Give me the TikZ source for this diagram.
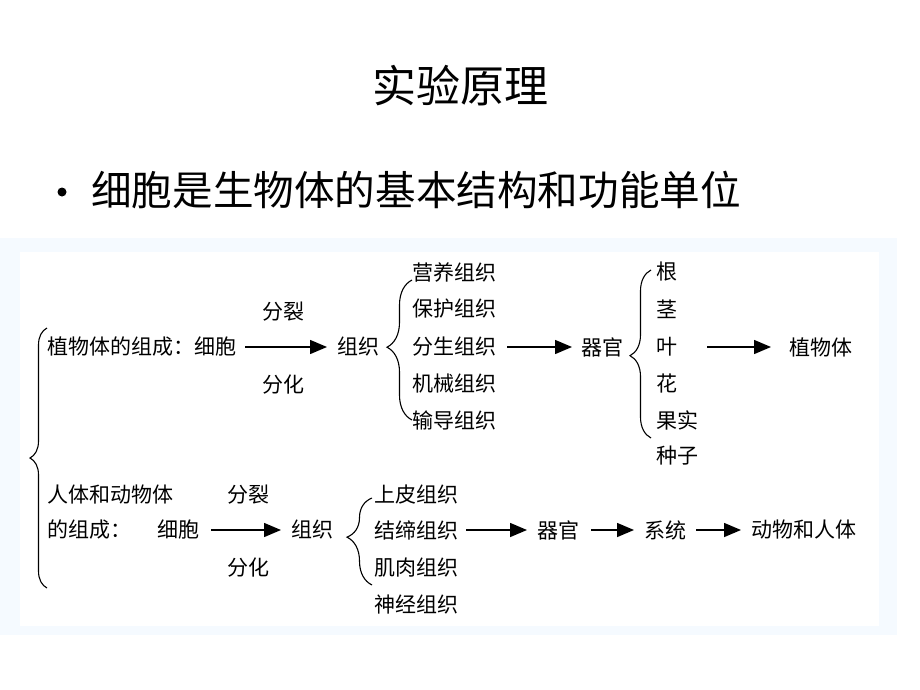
\documentclass[tikz,border=0pt]{standalone}
\usepackage{fontspec}
\newfontfamily\cjk{Noto Sans CJK SC}
\usetikzlibrary{arrows.meta,decorations.pathreplacing}
\definecolor{bgblue}{HTML}{F5FAFF}
\tikzset{
  lbl/.style={font=\cjk\fontsize{21}{21}\selectfont, inner sep=0pt, outer sep=0pt, anchor=west},
  clbl/.style={font=\cjk\fontsize{21}{21}\selectfont, inner sep=0pt, outer sep=0pt},
  arr/.style={line width=1.5pt, -{Triangle[length=17pt,width=14pt]}, shorten <=10pt, shorten >=10pt},
  brc/.style={line width=1.1pt, decorate, decoration={brace, amplitude=#1}},
}
\begin{document}
\begin{tikzpicture}[x=1pt,y=-1pt]
\useasboundingbox (0,0) rectangle (920,690);
\fill[white] (0,0) rectangle (920,690);
% background frames
\fill[bgblue] (0,238) rectangle (897,635);
\fill[white] (20,252) rectangle (879,626);
% title and bullet
\node[font=\cjk\fontsize{44}{44}\selectfont, inner sep=0pt] (title) at (460,86) {实验原理};
\node[circle, fill=black, inner sep=0pt, minimum size=9pt] (dot) at (62,192) {};
\node[font=\cjk\fontsize{40.6}{40.6}\selectfont, inner sep=0pt, anchor=west] (lead) at (91,190) {细胞是生物体的基本结构和功能单位};
% row 1: plants
\node[lbl] (pcell) at (47,347) {植物体的组成：细胞};
\node[clbl] (psplit) at (283,312) {分裂};
\node[clbl] (pdiff) at (283,385) {分化};
\node[lbl] (ptis) at (337,347) {组织};
\node[lbl] (t1) at (412,272) {营养组织};
\node[lbl] (t2) at (412,309) {保护组织};
\node[lbl] (t3) at (412,347) {分生组织};
\node[lbl] (t4) at (412,384) {机械组织};
\node[lbl] (t5) at (412,420) {输导组织};
\node[lbl] (porg) at (581,347) {器官};
\node[lbl] (o1) at (656,272) {根};
\node[lbl] (o2) at (656,309) {茎};
\node[lbl] (o3) at (656,347) {叶};
\node[lbl] (o4) at (656,384) {花};
\node[lbl] (o5) at (656,420) {果实};
\node[lbl] (o6) at (656,456) {种子};
\node[lbl] (pbody) at (789,347) {植物体};
\draw[arr, shorten <=9pt] (pcell) -- (ptis);
\draw[arr, shorten <=11pt, shorten >=9pt] (t3) -- (porg);
\draw[arr, shorten <=30pt, shorten >=18pt] (o3) -- (pbody);
% row 2: animals
\node[lbl] (alab1) at (47,495) {人体和动物体};
\node[lbl] (alab2) at (47,530) {的组成：};
\node[lbl] (acell) at (157,530) {细胞};
\node[clbl] (asplit) at (248,495) {分裂};
\node[clbl] (adiff) at (248,568) {分化};
\node[lbl] (atis) at (291,530) {组织};
\node[lbl] (u1) at (374,495) {上皮组织};
\node[lbl] (u2) at (374,530) {结缔组织};
\node[lbl] (u3) at (374,568) {肌肉组织};
\node[lbl] (u4) at (374,605) {神经组织};
\node[lbl] (aorg) at (537,530) {器官};
\node[lbl] (asys) at (644,530) {系统};
\node[lbl] (abody) at (751,530) {动物和人体};
\draw[arr, shorten <=12pt] (acell) -- (atis);
\draw[arr, shorten <=8pt] (u2) -- (aorg);
\draw[arr, shorten <=12pt] (aorg) -- (asys);
\draw[arr] (asys) -- (abody);
% braces
\coordinate (bigB) at (47,588);
\coordinate (bigT) at (47,328);
\draw[brc=17pt, decoration={aspect=0.5}] (bigB) -- (bigT);
\coordinate (ptB) at (412,420);
\coordinate (ptT) at (412,280);
\draw[brc=25pt, decoration={aspect=0.52}] (ptB) -- (ptT);
\coordinate (poB) at (651,438);
\coordinate (poT) at (651,270);
\draw[brc=21pt, decoration={aspect=0.49}] (poB) -- (poT);
\coordinate (atB) at (372,585);
\coordinate (atT) at (372,498);
\draw[brc=25pt, decoration={aspect=0.55}] (atB) -- (atT);
\end{tikzpicture}
\end{document}
